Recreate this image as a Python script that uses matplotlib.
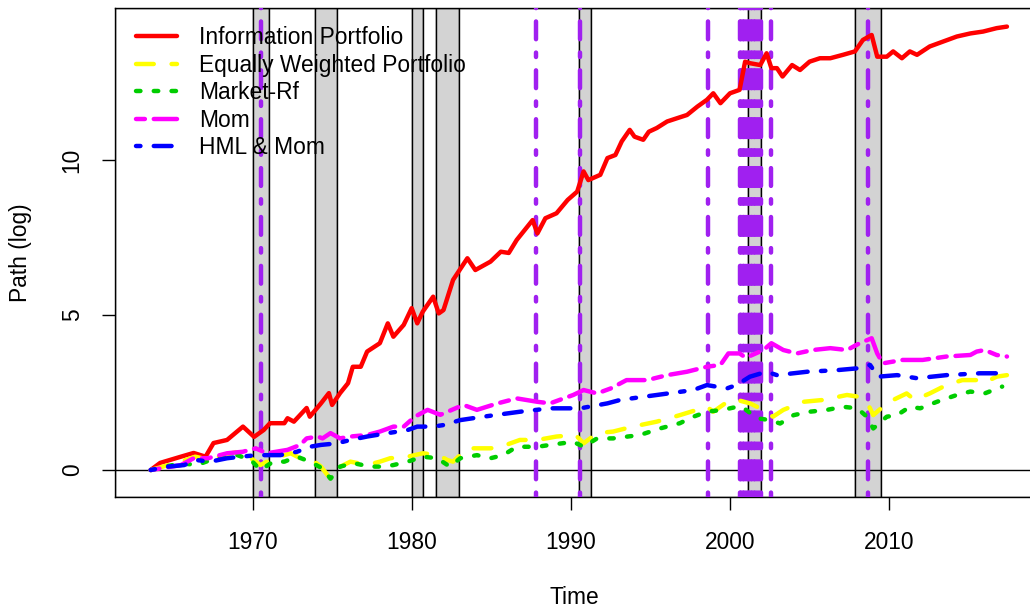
import matplotlib
matplotlib.use("Agg")
import matplotlib.pyplot as plt

plt.rcParams['font.family'] = ['Liberation Sans', 'DejaVu Sans']

# ---------------- data ----------------
red_t = [1963.6, 1964.2, 1965.5, 1966.3, 1967.05, 1967.55, 1968.4, 1969.4, 1970.1, 1970.7,
         1971.1, 1972.0, 1972.2, 1972.6, 1973.4, 1973.6, 1974.3, 1974.8, 1975.0, 1975.5,
         1976.0, 1976.3, 1976.8, 1977.2, 1978.0, 1978.5, 1978.85, 1979.5, 1980.0, 1980.35,
         1980.7, 1981.35, 1981.7, 1982.0, 1982.6, 1983.5, 1984.0, 1984.95, 1985.6, 1986.1,
         1986.6, 1987.6, 1987.9, 1988.4, 1989.1, 1989.8, 1990.4, 1990.8, 1991.1, 1991.85,
         1992.3, 1992.8, 1993.2, 1993.7, 1994.0, 1994.55, 1994.9, 1995.4, 1996.05, 1996.7,
         1997.3, 1997.95, 1998.55, 1998.95, 1999.4, 2000.0, 2000.6, 2000.95, 2001.25, 2001.9,
         2002.3, 2002.6, 2002.95, 2003.3, 2003.9, 2004.4, 2005.0, 2005.65, 2006.3, 2007.1,
         2007.85, 2008.35, 2008.9, 2009.25, 2009.85, 2010.25, 2010.8, 2011.3, 2011.75, 2012.55,
         2013.4, 2014.25, 2015.1, 2015.9, 2016.75, 2017.4]
red_v = [0.0, 0.23, 0.43, 0.55, 0.43, 0.87, 0.97, 1.40, 1.07, 1.29,
         1.51, 1.51, 1.67, 1.56, 2.0, 1.72, 2.15, 2.48, 2.10, 2.48,
         2.80, 3.33, 3.33, 3.82, 4.09, 4.73, 4.30, 4.68, 5.22, 4.73,
         5.11, 5.59, 5.05, 5.16, 6.13, 6.83, 6.45, 6.72, 7.04, 7.0,
         7.42, 8.06, 7.63, 8.12, 8.28, 8.71, 8.98, 9.63, 9.35, 9.52,
         10.06, 10.16, 10.6, 10.97, 10.75, 10.65, 10.91, 11.03, 11.24, 11.35,
         11.45, 11.72, 11.94, 12.15, 11.83, 12.15, 12.26, 13.17, 13.12, 13.06,
         13.44, 12.96, 12.96, 12.69, 13.06, 12.9, 13.17, 13.28, 13.28, 13.39,
         13.5, 13.87, 14.03, 13.33, 13.33, 13.5, 13.28, 13.5, 13.39, 13.66,
         13.82, 13.98, 14.08, 14.14, 14.25, 14.3]

ew_t = [1963.6, 1965.5, 1966.4, 1967.35, 1968.2, 1969.05, 1969.9, 1970.5, 1971.3, 1972.4,
        1973.0, 1973.6, 1974.3, 1974.8, 1975.3, 1976.15, 1977.2, 1978.0, 1978.65, 1979.75,
        1980.7, 1981.7, 1982.25, 1982.6, 1983.5, 1984.95, 1985.6, 1986.8, 1987.9, 1989.1,
        1990.3, 1990.8, 1991.65, 1992.65, 1993.9, 1995.4, 1996.85, 1998.55, 1998.95, 2000.0,
        2000.6, 2001.25, 2001.9, 2002.7, 2003.35, 2004.6, 2005.85, 2007.35, 2008.0, 2008.6,
        2009.0, 2009.6, 2010.25, 2011.1, 2011.6, 2012.55, 2013.6, 2014.6, 2015.5, 2015.9,
        2016.75, 2017.4]
ew_v = [0.0, 0.27, 0.43, 0.32, 0.48, 0.59, 0.38, 0.16, 0.38, 0.54,
        0.38, 0.38, 0.11, -0.22, 0.05, 0.27, 0.16, 0.27, 0.38, 0.43,
        0.54, 0.48, 0.32, 0.27, 0.70, 0.70, 0.75, 0.97, 0.97, 1.08,
        1.13, 0.86, 1.19, 1.24, 1.40, 1.56, 1.77, 2.04, 1.88, 2.26,
        2.24, 2.15, 1.99, 1.72, 1.94, 2.2, 2.26, 2.42, 2.37, 2.2,
        1.77, 2.04, 2.26, 2.47, 2.26, 2.47, 2.74, 2.9, 2.9, 2.8,
        3.01, 3.06]

mkt_t = [1963.6, 1965.5, 1966.5, 1967.35, 1969.05, 1969.9, 1970.5, 1971.3, 1972.0, 1972.8,
         1973.6, 1974.4, 1974.9, 1975.5, 1976.35, 1977.4, 1978.2, 1978.85, 1979.75, 1980.7,
         1981.6, 1982.4, 1983.05, 1984.1, 1984.95, 1985.75, 1986.6, 1987.9, 1988.7, 1990.15,
         1990.8, 1991.65, 1992.65, 1994.35, 1995.6, 1996.85, 1997.7, 1998.55, 1999.55, 2000.45,
         2000.75, 2001.7, 2002.5, 2003.15, 2004.0, 2005.0, 2006.1, 2007.1, 2008.0, 2008.6,
         2009.0, 2009.85, 2010.5, 2011.3, 2011.95, 2013.0, 2014.25, 2015.1, 2016.0, 2017.1]
mkt_v = [0.0, 0.22, 0.16, 0.32, 0.48, 0.32, 0.0, 0.27, 0.27, 0.43,
         0.27, 0.05, -0.28, 0.11, 0.22, 0.11, 0.11, 0.16, 0.27, 0.43,
         0.38, 0.11, 0.38, 0.48, 0.38, 0.48, 0.75, 0.75, 0.81, 0.91,
         0.75, 1.02, 1.02, 1.13, 1.34, 1.51, 1.72, 1.88, 1.94, 2.04,
         2.04, 1.67, 1.61, 1.5, 1.77, 1.88, 1.94, 2.04, 1.99, 1.72,
         1.34, 1.72, 1.77, 2.04, 1.99, 2.2, 2.42, 2.53, 2.47, 2.69]

mom_t = [1963.6, 1965.5, 1966.3, 1967.2, 1968.4, 1969.4, 1970.2, 1970.9, 1972.2, 1973.0,
         1973.4, 1974.1, 1974.4, 1974.9, 1975.5, 1976.15, 1977.2, 1978.0, 1978.85, 1979.5,
         1980.2, 1981.0, 1981.8, 1983.25, 1984.1, 1985.4, 1986.6, 1987.9, 1988.7, 1990.15,
         1990.8, 1991.65, 1992.5, 1993.5, 1994.8, 1996.05, 1997.3, 1998.55, 1999.4, 1999.9,
         2000.6, 2001.0, 2002.1, 2002.6, 2003.35, 2004.2, 2005.2, 2006.3, 2007.35, 2008.15,
         2008.9, 2009.25, 2009.6, 2010.85, 2012.1, 2013.6, 2015.1, 2015.5, 2016.0, 2016.75,
         2017.4]
mom_v = [0.0, 0.16, 0.38, 0.38, 0.54, 0.59, 0.70, 0.54, 0.65, 0.81,
         1.02, 1.08, 1.02, 1.19, 1.02, 1.08, 1.13, 1.24, 1.40, 1.40,
         1.72, 1.94, 1.78, 2.1, 1.94, 2.15, 2.31, 2.2, 2.15, 2.42,
         2.58, 2.47, 2.63, 2.90, 2.9, 3.06, 3.17, 3.33, 3.39, 3.76,
         3.76, 3.62, 3.87, 4.09, 3.87, 3.76, 3.87, 3.93, 3.87, 4.09,
         4.25, 3.76, 3.44, 3.55, 3.55, 3.66, 3.71, 3.82, 3.87, 3.71,
         3.66]

hml_t = [1963.6, 1964.7, 1965.7, 1966.5, 1967.35, 1968.4, 1969.25, 1970.3, 1970.9, 1971.75,
         1972.8, 1973.6, 1974.3, 1975.3, 1976.15, 1977.2, 1978.5, 1979.75, 1980.35, 1981.35,
         1982.0, 1983.05, 1984.5, 1986.8, 1988.7, 1990.6, 1992.3, 1993.1, 1995.4, 1997.7,
         1998.55, 1999.8, 2000.45, 2001.25, 2002.3, 2002.95, 2004.85, 2006.7, 2008.0, 2008.8,
         2009.3, 2010.5, 2011.75, 2013.6, 2015.7, 2017.4]
hml_v = [0.0, 0.11, 0.16, 0.32, 0.27, 0.38, 0.43, 0.48, 0.48, 0.48,
         0.59, 0.75, 0.81, 0.86, 0.97, 1.08, 1.19, 1.29, 1.40, 1.40,
         1.45, 1.61, 1.72, 1.88, 1.99, 1.99, 2.15, 2.26, 2.42, 2.58,
         2.74, 2.63, 2.75, 3.01, 3.17, 3.06, 3.17, 3.22, 3.28, 3.39,
         3.01, 3.06, 2.96, 3.06, 3.12, 3.12]

series_labels = ["Information Portfolio", "Equally Weighted Portfolio", "Market-Rf",
                 "Mom", "HML & Mom"]

# recession periods (grey) and event dates (purple)
rec_start = [1970.0, 1973.9, 1980.05, 1981.55, 1990.5, 2001.1, 2007.88]
rec_end = [1971.02, 1975.33, 1980.68, 1982.95, 1991.27, 2001.93, 2009.47]
event_dates = [1970.54, 1987.8, 1990.6, 1998.6,
               2000.6, 2000.7, 2000.8, 2000.9, 2001.0, 2001.1, 2001.2, 2001.3,
               2001.4, 2001.5, 2001.6, 2001.7, 2001.8, 2001.95,
               2002.56, 2008.7]

x_ticks = [1970, 1980, 1990, 2000, 2010]
y_ticks = [0, 5, 10]

# ---------------- figure ----------------
W, H = 1030, 610
FS = 16.4
LW = 3.2
fig = plt.figure(figsize=(W / 100, H / 100), dpi=100)
L, R, T, B = 115, 1034, 8, 497
ax = fig.add_axes([L / W, 1 - B / H, (R - L) / W, (B - T) / H])
xlim = (1961.36, 2019.1)
ylim = (-0.87, 14.9)
ax.set_xlim(*xlim)
ax.set_ylim(*ylim)

# expansion (white) and recession (grey) rectangles with black borders
edges = [xlim[0]] + [v for pair in zip(rec_start, rec_end) for v in pair] + [xlim[1] + 2]
for i in range(len(edges) - 1):
    grey = (i % 2 == 1)
    ax.axvspan(edges[i], edges[i + 1], facecolor='#D3D3D3' if grey else 'white',
               edgecolor='black', linewidth=1.0, zorder=1)

ax.axhline(0, color='black', linewidth=1.0, zorder=2)

for d in event_dates:
    ax.axvline(d, color='#A020F0', linewidth=LW, linestyle=(0, (1, 3, 4, 3)),
               dash_capstyle='round', zorder=3)

styles = [
    (red_t, red_v, 'red', '-'),
    (ew_t, ew_v, 'yellow', (0, (4, 4))),
    (mkt_t, mkt_v, '#00CD00', (0, (1, 3))),
    (mom_t, mom_v, 'magenta', (0, (2, 2, 6, 2))),
    (hml_t, hml_v, 'blue', (0, (1, 3, 4, 3))),
]
handles = []
for (t, v, c, ls), lab in zip(styles, series_labels):
    h, = ax.plot(t, v, color=c, linestyle=ls, linewidth=LW, solid_capstyle='round',
                 dash_capstyle='round', solid_joinstyle='round', zorder=4, label=lab)
    handles.append(h)

for s in ax.spines.values():
    s.set_linewidth(1.0)
    s.set_color('black')
    s.set_zorder(2.5)

ax.set_xticks(x_ticks)
ax.set_xticklabels([str(x) for x in x_ticks])
ax.set_yticks(y_ticks)
ax.set_yticklabels([str(y) for y in y_ticks], rotation=90, va='center')
ax.tick_params(axis='both', direction='out', length=9.5, width=1.0, labelsize=FS,
               colors='black')
ax.tick_params(axis='x', pad=15)
ax.tick_params(axis='y', pad=13)

fig.text(574.5 / W, 1 - 597 / H, "Time", ha='center', va='center', fontsize=FS)
fig.text(21 / W, 1 - 252.5 / H, "Path (log)", ha='center', va='center', fontsize=FS,
         rotation=90)

leg = ax.legend(handles=handles, loc='upper left', bbox_to_anchor=(136 / W, 1 - 26 / H),
                bbox_transform=fig.transFigure, frameon=False, fontsize=FS,
                handlelength=1.8, handletextpad=0.95, labelspacing=0.2,
                borderpad=0, borderaxespad=0)
leg.set_zorder(5)

fig.savefig("out.png", dpi=100)
